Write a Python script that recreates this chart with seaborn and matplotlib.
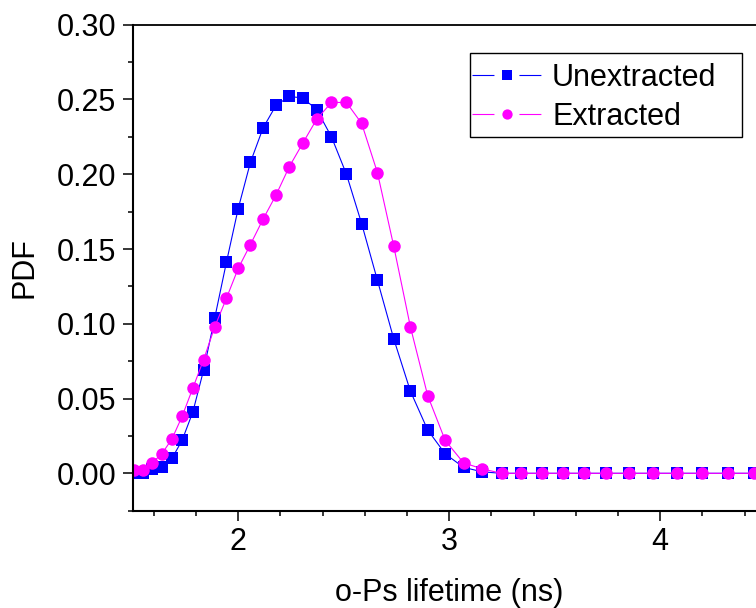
import matplotlib
matplotlib.use("Agg")
import matplotlib.pyplot as plt
from matplotlib.ticker import MultipleLocator, FormatStrFormatter
from matplotlib.lines import Line2D
from matplotlib.patches import Rectangle
import seaborn as sns
import pandas as pd

lifetime = [1.504, 1.548, 1.592, 1.638, 1.686, 1.734, 1.785, 1.836, 1.889, 1.944,
            2.000, 2.058, 2.118, 2.179, 2.242, 2.307, 2.373, 2.442, 2.513, 2.585,
            2.660, 2.737, 2.816, 2.898, 2.981, 3.068, 3.156, 3.248, 3.341, 3.438,
            3.538, 3.640, 3.745, 3.853, 3.965, 4.079, 4.197, 4.319, 4.444]
unextracted = [0.000, 0.000, 0.003, 0.004, 0.010, 0.022, 0.041, 0.069, 0.104, 0.141,
               0.177, 0.208, 0.231, 0.246, 0.252, 0.251, 0.243, 0.225, 0.200, 0.167,
               0.129, 0.090, 0.055, 0.029, 0.013, 0.004, 0.001, 0.000, 0.000, 0.000,
               0.000, 0.000, 0.000, 0.000, 0.000, 0.000, 0.000, 0.000, 0.000]
extracted = [0.002, 0.002, 0.007, 0.013, 0.023, 0.038, 0.057, 0.076, 0.098, 0.117,
             0.137, 0.153, 0.170, 0.186, 0.205, 0.221, 0.237, 0.248, 0.248, 0.234,
             0.201, 0.152, 0.098, 0.052, 0.022, 0.007, 0.003, 0.000, 0.000, 0.000,
             0.000, 0.000, 0.000, 0.000, 0.000, 0.000, 0.000, 0.000, 0.000]
series_names = ["Unextracted", "Extracted"]
series_colors = ["#0000FF", "#FF00FF"]
series_markers = ["s", "o"]

sns.set_theme(style="ticks")
plt.rcParams["font.family"] = ["Liberation Sans", "DejaVu Sans"]
plt.rcParams["lines.scale_dashes"] = False
plt.rcParams["text.color"] = "black"
plt.rcParams["axes.labelcolor"] = "black"
plt.rcParams["xtick.color"] = "black"
plt.rcParams["ytick.color"] = "black"

W, H = 756, 608
fig = plt.figure(figsize=(7.56, 6.08), dpi=100)
ax = fig.add_axes([132.7 / W, 97.3 / H, (765.7 - 132.7) / W, (583.3 - 97.3) / H])

df_u = pd.DataFrame({"x": lifetime, "y": unextracted})
df_e = pd.DataFrame({"x": lifetime, "y": extracted})
sizes = [8.7, 9.0]
for df, c, m, ms in zip([df_u, df_e], series_colors, series_markers, sizes):
    sns.lineplot(data=df, x="x", y="y", ax=ax, color=c, marker=m, markersize=ms,
                 markeredgewidth=0, linewidth=0.8, sort=False, estimator=None,
                 legend=False)

ax.set_xlim(1.5, 4.5)
ax.set_ylim(-0.025, 0.30)
ax.xaxis.set_major_locator(MultipleLocator(1))
ax.xaxis.set_minor_locator(MultipleLocator(0.2))
ax.yaxis.set_major_locator(MultipleLocator(0.05))
ax.yaxis.set_minor_locator(MultipleLocator(0.025))
ax.yaxis.set_major_formatter(FormatStrFormatter("%.2f"))

ax.tick_params(which="major", direction="out", length=7, width=1.1, labelsize=22,
               colors="black", labelcolor="black", pad=5)
ax.tick_params(which="minor", direction="out", length=3.6, width=1.1, colors="black")
ax.tick_params(top=False, right=False)

for s in ["left", "bottom"]:
    ax.spines[s].set_linewidth(1.5)
    ax.spines[s].set_color("black")
ax.spines["top"].set_linewidth(1.3)
ax.spines["top"].set_color("black")
ax.spines["right"].set_visible(False)

ax.set_xlabel("o-Ps lifetime (ns)", fontsize=22, labelpad=15, color="black")
ax.set_ylabel("PDF", fontsize=22, labelpad=12, color="black")

# legend frame as drawn in the reference
fig.patches.append(Rectangle((470 / W, 1 - 136.7 / H), (742 - 470) / W, (136.7 - 52.7) / H,
                             transform=fig.transFigure, fill=True, facecolor="white",
                             edgecolor="black", linewidth=1.0, zorder=5))

handles = [Line2D([], [], color=c, marker=m, markersize=7.4, markeredgewidth=0,
                  linewidth=0.8, linestyle=(0, (15.8, 18)))
           for c, m in zip(series_colors, series_markers)]
leg = fig.legend(handles, series_names, loc="upper left",
                 bbox_to_anchor=(472 / W, 1 - 63 / H), bbox_transform=fig.transFigure,
                 borderaxespad=0, fontsize=22, frameon=False, handlelength=2.29,
                 handletextpad=0.33, labelspacing=0.28, borderpad=0, numpoints=1)
leg.set_zorder(6)

fig.savefig("out.png", dpi=100)
